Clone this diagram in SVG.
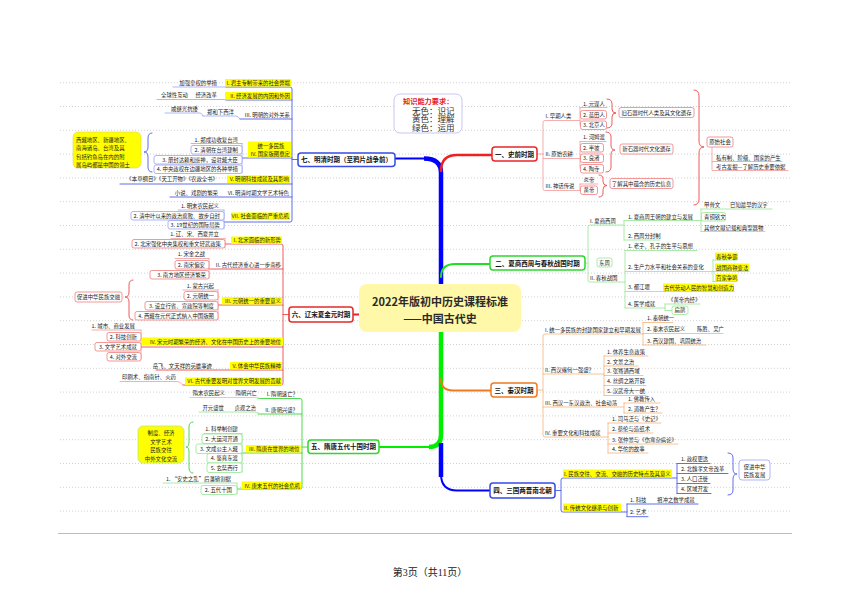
<svg xmlns="http://www.w3.org/2000/svg" width="860" height="608" viewBox="0 0 860 608">
<style>
text{font-family:"Noto Sans CJK SC","Noto Sans",sans-serif;fill:#222}
.t{font-size:5.4px}
.e{text-anchor:end}
.m{text-anchor:middle}
.n{font-size:6.5px;font-weight:bold;fill:#111;text-anchor:middle}
.hl{fill:#ffff00}
.dot{fill:none;stroke:#c6c6c6;stroke-width:0.8;stroke-dasharray:1 2}
.c{fill:none;stroke-linecap:round;stroke-linejoin:round}
.r1{stroke:#ea4a4a;stroke-width:0.9}
.r2{stroke:#f29a9a;stroke-width:0.8}
.b1{stroke:#4f5ee6;stroke-width:0.9}
.b2{stroke:#9ea5f3;stroke-width:0.8}
.g1{stroke:#3cd43c;stroke-width:0.9}
.g2{stroke:#95e595;stroke-width:0.8}
.o2{stroke:#f6b27c;stroke-width:0.8}
.bxr{fill:#fff;stroke:#ee6a6a;stroke-width:0.7}
.bxb{fill:#fff;stroke:#8d96f0;stroke-width:0.7}
.bxg{fill:#fff;stroke:#86e286;stroke-width:0.7}
.bxo{fill:#fff;stroke:#f6b27c;stroke-width:0.7}
.nd{fill:#fff;stroke-width:1.5}
.sf{font-family:"Liberation Serif","Noto Sans CJK SC",serif}
</style>
<rect width="860" height="608" fill="#fff"/>
<g id="page">
<path class="dot" d="M60,82.7H790M60,106.5H790M60,130.3H790M60,154.1H790M60,177.9H790M60,201.7H790M60,225.5H790M60,249.3H790M60,273.1H790M60,296.9H790M60,320.7H790M60,344.5H790M60,368.3H790M60,392.1H790M60,415.9H790M60,439.7H790M60,463.5H790M60,487.3H790M60,511.1H790"/>
<path d="M58,533.5H792" stroke="#bdbdbd" stroke-width="1"/>
<text class="sf" x="430" y="576" text-anchor="middle" style="font-size:10px">第3页（共11页）</text>
</g>
<g id="connectors">
<path class="c" d="M395,158.5H427" stroke="#0000ff" stroke-width="2"/>
<path d="M424,158.5Q441,158.5 441,173V286" fill="none" stroke="#0000ff" stroke-width="4.5"/>
<path class="c" d="M441,171Q441,155 457,155H492" stroke="#ee2020" stroke-width="2.5"/>
<path class="c" d="M441,277Q441,264 455,264H490" stroke="#22dd22" stroke-width="2"/>
<path d="M441,330V435Q441,447 429,447" fill="none" stroke="#00ee00" stroke-width="4.5"/>
<path class="c" d="M431,447H379" stroke="#00ee00" stroke-width="2"/>
<path class="c" d="M441,379Q441,390.5 453,390.5H491" stroke="#f07a20" stroke-width="2"/>
<path d="M441,443V477" fill="none" stroke="#0000ff" stroke-width="4.5"/>
<path class="c" d="M441,474Q441,490.5 457,490.5H490" stroke="#0000ff" stroke-width="2"/>
<path class="c" d="M353,314.5H359" stroke="#ee2020" stroke-width="2"/>
<!-- 一 -->
<path class="c r2" d="M537,154H543M580,120.5H545Q543,120.5 543,122.5V188.5Q543,190.5 545,190.5H580M543,158.5H580"/>
<path class="c r2" d="M580,107.5V125M580,107.5H607"/>
<path class="c r2" d="M580,141.5V168M580,141.5H606"/>
<path class="c r2" d="M580,184V190.5M580,184H598"/>
<path class="c r1" d="M607,99Q612,99 612,104V109Q612,113 616,113Q612,113 612,117V123Q612,128 607,128"/>
<path class="c r1" d="M606,132Q611,132 611,137V145Q611,150 615,150Q611,150 611,155V167Q611,172 606,172"/>
<path class="c r1" d="M599,175Q603,175 603,179V181.5Q603,185.5 607,185.5Q603,185.5 603,189.5V193Q603,197 599,197"/>
<path class="c r1" d="M694,90Q699,90 699,96V141Q699,147 704,147Q699,147 699,153V199Q699,205 694,205"/>
<path class="c r2" d="M712,147.5V170.5H788M712,161.5H782"/>
<!-- 二 -->
<path class="c g2" d="M585,263H588M624,225H590Q588,225 588,227V280Q588,282 590,282H625"/>
<path class="c g2" d="M624,220.5V240M624,220.5H701M624,240H660"/>
<path class="c g2" d="M701,209V231.5M701,209H772M701,231.5H765"/>
<path class="c g2" d="M625,250.5V308M625,250.5H697M625,271.5H713M625,291.5H734M625,308H665"/>
<path class="c g2" d="M713,260V281.5M713,260H737M713,271.5H749M713,281.5H737"/>
<path class="c g2" d="M665,304V310.5H672M665,304H700"/>
<!-- 三 -->
<path class="c o2" d="M537,390H543M643,334H545Q543,334 543,336V435Q543,437 545,437H608M543,374H604M543,407H624"/>
<path class="c o2" d="M643,322.5V345M643,322.5H673M643,333.5H723M643,345H706"/>
<path class="c o2" d="M604,356V395.5M604,356H648M604,366H638M604,375.5H643M604,385.5H646M604,395.5H646"/>
<path class="c o2" d="M624,403V413M624,403H660M624,413H662"/>
<path class="c o2" d="M608,423V453M608,423H661M608,433H653M608,444H678M608,453H648"/>
<!-- 四 -->
<path class="c b1" d="M555,490.5H561M677,478H563Q561,478 561,480V510Q561,512 563,512H627"/>
<path class="c b1" d="M677,463.5V493.5M677,463.5H710M677,473.5H728M677,483.5H710M677,493.5H711"/>
<path class="c b1" d="M728,453Q733,453 733,458V469Q733,474 737,474Q733,474 733,479V490Q733,495 728,495"/>
<path class="c b1" d="M627,504V516.7M627,504H698M627,516.7H648"/>
<!-- 五 -->
<path class="c g1" d="M308,447H302M258,398.5H300Q302,398.5 302,400.5V487Q302,489 300,489H237M258,414H302M242,453H302"/>
<path class="c g2" d="M190,397.5H255Q258,397.5 260,398.5M199,412H255Q258,412 260,414"/>
<path class="c g2" d="M242,433.5V472.5M204,433.5H242"/>
<path class="c g1" d="M193,422Q189,422 189,427V442Q189,447 186,447Q189,447 189,452V468Q189,473 193,473"/>
<path class="c g2" d="M237,483V494M163,483H237"/>
<!-- 六 -->
<path class="c r1" d="M289,314.5H283M225,244H281Q283,244 283,246V383Q283,385 281,385H183M209,269H283M218,305H283M141,347H283M156,370H283"/>
<path class="c r2" d="M225,238.5V248M171,238.5H225"/>
<path class="c r2" d="M209,258.5V278M175,258.5H209"/>
<path class="c r2" d="M218,290V320M183,290H218"/>
<path class="c r1" d="M133,280Q129,280 129,285V292Q129,297 125,297Q129,297 129,302V315Q129,320 133,320"/>
<path class="c r2" d="M141,330V359M92,330H141"/>
<path class="c r2" d="M120,381.5H177Q180,381.5 183,385"/>
<!-- 七 -->
<path class="c b1" d="M298,159.5H292M226,87H290Q292,87 292,89V220Q292,222 290,222H224M226,100H292M240,119H292M242,158H292M120,184H292M170,197H292"/>
<path class="c b2" d="M173,87H226"/>
<path class="c b2" d="M157,99.5H224L226,100"/>
<path class="c b2" d="M203,116H236Q238,116 240,119M165,113H200Q202,113 203,116"/>
<path class="c b2" d="M242,143.5V173M191,143.5H242"/>
<path class="c b1" d="M152,133Q148,133 148,138V147Q148,152 144,152Q148,152 148,157V167Q148,172 152,172"/>
<path class="c b2" d="M224,210V229M178,210H224"/>
</g>

<g id="center">
<rect x="359" y="284" width="162" height="48" rx="8" fill="#fff8a8"/>
<text x="440" y="305.5" text-anchor="middle" style="font-size:11px;font-weight:bold;fill:#2a2a2a">2022年版初中历史课程标准</text>
<text x="440" y="322.5" text-anchor="middle" style="font-size:11px;font-weight:bold;fill:#2a2a2a">——中国古代史</text>
</g>
<g id="legend">
<rect x="394" y="94" width="68" height="39" rx="6" fill="#fff" stroke="#b9b9ef" stroke-width="0.8"/>
<text class="sf" x="403" y="103.8" style="font-size:7.2px;font-weight:bold;fill:#e62020">知识能力要求：</text>
<text class="sf" x="412" y="113.5" style="font-size:8.5px;fill:#333">无色：识记</text>
<text class="sf" x="412" y="122" style="font-size:8.5px;fill:#333">黄色：理解</text>
<text class="sf" x="412" y="130.5" style="font-size:8.5px;fill:#333">绿色：运用</text>
</g>

<!-- 一 史前时期 -->
<g id="n1"><rect class="nd" x="492" y="147" width="45" height="14" rx="3" stroke="#e8262a"/><text class="n" x="514.5" y="156.6">一、史前时期</text></g>
<g id="n1-1"><text class="t" x="545.5" y="118">I. 早期人类</text></g>
<g id="n1-1-1"><text class="t" x="583" y="105.5">1. 元谋人</text></g>
<g id="n1-1-2"><rect class="bxr" x="580.5" y="110.5" width="26" height="8.5" rx="2"/><text class="t" x="583" y="116.8">2. 蓝田人</text></g>
<g id="n1-1-3"><rect class="bxr" x="580.5" y="121" width="26" height="8.5" rx="2"/><text class="t" x="583" y="127.3">3. 北京人</text></g>
<g id="n1-1-s"><rect class="bxr" x="619" y="107.5" width="75" height="10" rx="2"/><text class="t m" x="656.5" y="114.6">旧石器时代人类及其文化遗存</text></g>
<g id="n1-2"><text class="t" x="545.5" y="156">II. 原始农耕</text></g>
<g id="n1-2-1"><text class="t" x="583" y="139">1. 河姆渡</text></g>
<g id="n1-2-2"><rect class="bxr" x="580.5" y="143.5" width="23" height="8.5" rx="2"/><text class="t" x="583" y="149.8">2. 半坡</text></g>
<g id="n1-2-3"><rect class="bxr" x="580.5" y="154" width="23" height="8.5" rx="2"/><text class="t" x="583" y="160.3">3. 良渚</text></g>
<g id="n1-2-4"><rect class="bxr" x="580.5" y="164.5" width="23" height="8.5" rx="2"/><text class="t" x="583" y="170.8">4. 陶寺</text></g>
<g id="n1-2-s"><rect class="bxr" x="620" y="144" width="53" height="10" rx="2"/><text class="t m" x="646.5" y="151.1">新石器时代文化遗存</text></g>
<g id="n1-3"><text class="t" x="545.5" y="188">III. 神话传说</text></g>
<g id="n1-3-1"><text class="t" x="583.5" y="182">炎帝</text></g>
<g id="n1-3-2"><rect class="bxr" x="580.5" y="186" width="17" height="8.5" rx="2"/><text class="t" x="583.5" y="192.3">黄帝</text></g>
<g id="n1-3-s"><rect class="bxr" x="610" y="178.5" width="63" height="10" rx="2"/><text class="t m" x="641.5" y="185.6">了解其中蕴含的历史信息</text></g>
<g id="n1-s"><rect class="bxr" x="707" y="137" width="26" height="10" rx="2"/><text class="t m" x="720" y="144.1">原始社会</text></g>
<g id="n1-s-1"><text class="t" x="716" y="159.5">私有制、阶级、国家的产生</text></g>
<g id="n1-s-2"><text class="t" x="716" y="168.5">考古发掘—了解历史重要依据</text></g>

<!-- 二 -->
<g id="n2"><rect class="nd" x="490" y="256" width="95" height="14" rx="3" stroke="#2ed62e"/><text class="n" x="537.5" y="265.5">二、夏商西周与春秋战国时期</text></g>
<g id="n2-1"><text class="t" x="590" y="222.5">I. 夏商西周</text></g>
<g id="n2-1-1"><text class="t" x="628" y="218.5">1. 夏商周王朝的建立与发展</text></g>
<g id="n2-1-1a"><text class="t" x="704" y="206.5">甲骨文</text><text class="t" x="730" y="206.5">已知最早的汉字</text></g>
<g id="n2-1-1b"><rect class="bxg" x="701.5" y="212.5" width="24" height="8.5" rx="2"/><text class="t" x="704" y="218.8">青铜铭文</text></g>
<g id="n2-1-1c"><text class="t" x="704" y="229.5">其他文献记载和典型器物</text></g>
<g id="n2-1-2"><text class="t" x="628" y="237.5">2. 西周分封制</text></g>
<g id="n2-2"><text class="t" x="590" y="279.5">II. 春秋战国</text></g>
<g id="n2-2-d"><rect class="bxg" x="597" y="258" width="15" height="9" rx="2"/><text class="t m" x="604.5" y="264.6">东周</text></g>
<g id="n2-2-1"><text class="t" x="628" y="248">1. 老子、孔子的生平与思想</text></g>
<g id="n2-2-2"><text class="t" x="628" y="269">2. 生产力水平和社会关系的变化</text></g>
<g id="n2-2-2a"><rect class="hl" x="715" y="252.5" width="22.5" height="7"/><text class="t" x="716" y="258.6">春秋争霸</text></g>
<g id="n2-2-2b"><rect class="hl" x="715" y="263.5" width="34" height="7"/><text class="t" x="716" y="269.6">战国商鞅变法</text></g>
<g id="n2-2-2c"><rect class="hl" x="715" y="274" width="22.5" height="7"/><text class="t" x="716" y="280">百家争鸣</text></g>
<g id="n2-2-3"><text class="t" x="628" y="289">3. 都江堰</text></g>
<g id="n2-2-3a"><rect class="hl" x="663" y="283.5" width="71" height="7.5"/><text class="t" x="664" y="289.7">古代劳动人民的智慧和创造力</text></g>
<g id="n2-2-4"><text class="t" x="628" y="305.5">4. 医学成就</text></g>
<g id="n2-2-4a"><text class="t" x="668" y="301.5">《黄帝内经》</text></g>
<g id="n2-2-4b"><rect class="bxg" x="672" y="306" width="16" height="8.5" rx="2"/><text class="t m" x="680" y="312.4">扁鹊</text></g>

<!-- 三 -->
<g id="n3"><rect class="nd" x="491" y="383" width="46" height="14" rx="3" stroke="#f07a20"/><text class="n" x="514" y="392.5">三、秦汉时期</text></g>
<g id="n3-1"><text class="t" x="545" y="331.5">I. 统一多民族的封建国家建立和早期发展</text></g>
<g id="n3-1-1"><text class="t" x="647" y="320">1. 秦朝统一</text></g>
<g id="n3-1-2"><text class="t" x="647" y="331">2. 秦末农民起义</text><text class="t" x="697" y="331">陈胜、吴广</text></g>
<g id="n3-1-3"><text class="t" x="647" y="342.5">3. 西汉建国、巩固统治</text></g>
<g id="n3-2"><text class="t" x="545" y="371.5">II. 西汉缘何一强盛？</text></g>
<g id="n3-2-1"><text class="t" x="607" y="353.5">1. 休养生息政策</text></g>
<g id="n3-2-2"><text class="t" x="607" y="363.5">2. 文景之治</text></g>
<g id="n3-2-3"><text class="t" x="607" y="373">3. 张骞通西域</text></g>
<g id="n3-2-4"><text class="t" x="607" y="383">4. 丝绸之路开辟</text></g>
<g id="n3-2-5"><text class="t" x="607" y="393">5. 汉武帝大一统</text></g>
<g id="n3-3"><text class="t" x="545" y="404.5">III. 西汉一东汉政治、社会动荡</text></g>
<g id="n3-3-1"><text class="t" x="628" y="400.5">1. 佛教传入</text></g>
<g id="n3-3-2"><text class="t" x="628" y="410.5">2. 道教产生？</text></g>
<g id="n3-4"><text class="t" x="545" y="434.5">IV. 重要文化和科技成就</text></g>
<g id="n3-4-1"><text class="t" x="612" y="421">1. 司马迁与《史记》</text></g>
<g id="n3-4-2"><text class="t" x="612" y="431">2. 蔡伦与造纸术</text></g>
<g id="n3-4-3"><text class="t" x="612" y="442">3. 张仲景与《伤寒杂病论》</text></g>
<g id="n3-4-4"><text class="t" x="612" y="451">4. 华佗的故事</text></g>

<!-- 四 -->
<g id="n4"><rect class="nd" x="490" y="483" width="65" height="15" rx="3" stroke="#3a4be6"/><text class="n" x="522.5" y="493.2">四、三国两晋南北朝</text></g>
<g id="n4-1"><rect class="hl" x="563" y="469.5" width="109" height="8"/><text class="t" x="564" y="476">I. 民族交往、交流、交融的历史特点及其意义</text></g>
<g id="n4-1-1"><text class="t" x="681" y="461">1. 政权更迭</text></g>
<g id="n4-1-2"><text class="t" x="681" y="471">2. 北魏孝文帝改革</text></g>
<g id="n4-1-3"><text class="t" x="681" y="481">3. 人口迁徙</text></g>
<g id="n4-1-4"><text class="t" x="681" y="491">4. 区域开发</text></g>
<g id="n4-1-s"><rect class="bxb" x="739" y="460" width="31" height="20" rx="3"/><text class="t m" x="754.5" y="468.5">促进中华</text><text class="t m" x="754.5" y="477">民族发展</text></g>
<g id="n4-2"><rect class="hl" x="563" y="503.5" width="58" height="8"/><text class="t" x="564" y="510">II. 传统文化继承与创新</text></g>
<g id="n4-2-1"><text class="t" x="630" y="501.5">1. 科技</text><text class="t" x="657" y="501.5">祖冲之数学成就</text></g>
<g id="n4-2-2"><text class="t" x="630" y="514">2. 艺术</text></g>

<!-- 五 -->
<g id="n5"><rect class="nd" x="308" y="440" width="71" height="13.5" rx="3" stroke="#2ed62e"/><text class="n" x="343.5" y="449.2">五、隋唐五代十国时期</text></g>
<g id="n5-1"><text class="t e" x="298" y="396">I. 隋朝速亡？</text><text class="t e" x="257" y="395.3">隋朝兴亡</text><text class="t e" x="225" y="395.3">隋末农民起义</text></g>
<g id="n5-2"><text class="t e" x="298" y="411.5">II. 唐朝兴盛？</text><text class="t e" x="256" y="409.7">贞观之治</text><text class="t e" x="224" y="409.7">开元盛世</text></g>
<g id="n5-3"><rect class="hl" x="246" y="445" width="54.5" height="7.5"/><text class="t e" x="299.5" y="451">III. 隋唐在世界的地位</text></g>
<g id="n5-3-1"><text class="t e" x="238" y="431">1. 科举制创建</text></g>
<g id="n5-3-2"><rect class="bxg" x="202" y="434" width="40" height="9.5" rx="2"/><text class="t e" x="238" y="440.8">2. 大运河开通</text></g>
<g id="n5-3-3"><rect class="bxg" x="196" y="444" width="46" height="9.5" rx="2"/><text class="t e" x="238" y="450.8">3. 文成公主入藏</text></g>
<g id="n5-3-4"><rect class="bxg" x="207" y="453.5" width="35" height="9.5" rx="2"/><text class="t e" x="238" y="460.3">4. 鉴真东渡</text></g>
<g id="n5-3-5"><rect class="bxg" x="207" y="463" width="35" height="9.5" rx="2"/><text class="t e" x="238" y="469.8">5. 玄奘西行</text></g>
<g id="n5-3-s"><rect x="138" y="426" width="46" height="37" rx="5" fill="#ffff00" stroke="#bfe86a" stroke-width="0.8"/><text class="t m" x="161" y="435">制度、经济</text><text class="t m" x="161" y="443.5">文学艺术</text><text class="t m" x="161" y="452">民族交往</text><text class="t m" x="161" y="460.5">中外文化交流</text></g>
<g id="n5-4"><rect class="hl" x="241.5" y="481.5" width="59.5" height="7.5"/><text class="t e" x="300" y="487.5">IV. 唐末五代的社会危机</text></g>
<g id="n5-4-1"><text class="t e" x="231" y="481">1. “安史之乱”后藩镇割据</text></g>
<g id="n5-4-2"><rect class="bxg" x="201" y="485.5" width="36" height="9" rx="2"/><text class="t e" x="232" y="492">2. 五代十国</text></g>

<!-- 六 -->
<g id="n6"><rect class="nd" x="289" y="307" width="64" height="15" rx="3" stroke="#e52a2a"/><text class="n" x="321" y="317">六、辽宋夏金元时期</text></g>
<g id="n6-1"><rect class="hl" x="231" y="236.5" width="51" height="7.5"/><text class="t e" x="281" y="242.3">I. 北宋面临的新形势</text></g>
<g id="n6-1-1"><text class="t e" x="219" y="236">1. 辽、宋、西夏并立</text></g>
<g id="n6-1-2"><rect class="bxr" x="132" y="239.5" width="93" height="8.5" rx="2"/><text class="t e" x="221" y="245.8">2. 北宋强化中央集权和重文轻武政策</text></g>
<g id="n6-2"><text class="t e" x="281" y="267">II. 古代经济重心进一步南移</text></g>
<g id="n6-2-1"><text class="t e" x="205" y="256">1. 宋金之战</text></g>
<g id="n6-2-2"><rect class="bxr" x="175" y="260.5" width="34" height="8.5" rx="2"/><text class="t e" x="205" y="266.8">2. 南宋偏安</text></g>
<g id="n6-2-3"><rect class="bxr" x="150" y="270.5" width="59" height="8.5" rx="2"/><text class="t e" x="206" y="276.8">3. 南方地区经济繁荣</text></g>
<g id="n6-3"><rect class="hl" x="222" y="297" width="60" height="7.5"/><text class="t e" x="281" y="302.8">III. 元朝统一的重要意义</text></g>
<g id="n6-3-1"><text class="t e" x="214" y="287.5">1. 蒙古兴起</text></g>
<g id="n6-3-2"><rect class="bxr" x="184" y="291.5" width="34" height="8.5" rx="2"/><text class="t e" x="214" y="297.8">2. 元朝统一</text></g>
<g id="n6-3-3"><rect class="bxr" x="145" y="301.5" width="73" height="8.5" rx="2"/><text class="t e" x="214" y="307.8">3. 设立行省、宣政院等制度</text></g>
<g id="n6-3-4"><rect class="bxr" x="135" y="311.5" width="83" height="8.5" rx="2"/><text class="t e" x="214" y="317.8">4. 西藏在元代正式纳入中国版图</text></g>
<g id="n6-3-s"><rect class="bxr" x="75" y="292" width="47" height="10" rx="2"/><text class="t m" x="98.5" y="299.2">促进中华民族交融</text></g>
<g id="n6-4"><rect class="hl" x="141" y="337.5" width="142" height="8"/><text class="t e" x="281" y="343.5">IV. 宋元时期繁荣的经济、文化在中国历史上的重要地位</text></g>
<g id="n6-4-1"><text class="t e" x="135" y="327.8">1. 城市、商业发展</text></g>
<g id="n6-4-2"><rect class="bxr" x="107" y="332.5" width="34" height="8.5" rx="2"/><text class="t e" x="137" y="338.8">2. 科技创新</text></g>
<g id="n6-4-3"><rect class="bxr" x="95" y="342.5" width="46" height="8.5" rx="2"/><text class="t e" x="137" y="348.8">3. 文学艺术成就</text></g>
<g id="n6-4-4"><rect class="bxr" x="107" y="352.5" width="34" height="8.5" rx="2"/><text class="t e" x="137" y="358.8">4. 对外交流</text></g>
<g id="n6-5"><rect class="hl" x="230" y="362" width="52" height="7.5"/><text class="t e" x="281" y="367.8">V. 体会中华民族精神</text><text class="t e" x="212" y="367.5">岳飞、文天祥的英雄事迹</text></g>
<g id="n6-6"><rect class="hl" x="185" y="377.5" width="97" height="7.5"/><text class="t e" x="281" y="383.3">VI. 古代重要发明对世界文明发展的贡献</text><text class="t e" x="176" y="379">印刷术、指南针、火药</text></g>

<!-- 七 -->
<g id="n7"><rect class="nd" x="298" y="153" width="97" height="13.5" rx="3" stroke="#3a4be6"/><text class="n" x="346.5" y="162.3">七、明清时期（至鸦片战争前）</text></g>
<g id="n7-1"><rect class="hl" x="225" y="79" width="66" height="7.5"/><text class="t e" x="290" y="85">I. 君主专制带来的社会弊端</text><text class="t e" x="217" y="84.5">加强皇权的举措</text></g>
<g id="n7-2"><rect class="hl" x="225" y="92" width="66" height="7.5"/><text class="t e" x="290" y="98">II. 经济发展的内因和外因</text><text class="t e" x="217" y="97">经济改革</text><text class="t e" x="188" y="97">全球性互动</text></g>
<g id="n7-3"><text class="t e" x="290" y="116.5">III. 明朝的对外关系</text><text class="t e" x="234" y="113.5">郑和下西洋</text><text class="t e" x="198" y="110.5">戚继光抗倭</text></g>
<g id="n7-4"><rect class="hl" x="248" y="141.5" width="43" height="16"/><text class="t m" x="271" y="148.3">统一多民族</text><text class="t e" x="290" y="155.5">IV. 国家版图奠定</text></g>
<g id="n7-4-1"><text class="t e" x="238" y="141.5">1. 郑成功收复台湾</text></g>
<g id="n7-4-2"><rect class="bxb" x="191" y="145.5" width="51" height="8.5" rx="2"/><text class="t e" x="238" y="151.8">2. 清朝在台湾建制</text></g>
<g id="n7-4-3"><rect class="bxb" x="154" y="155.5" width="88" height="8.5" rx="2"/><text class="t e" x="238" y="161.8">3. 册封达赖和班禅，设驻藏大臣</text></g>
<g id="n7-4-4"><rect class="bxb" x="154" y="165" width="88" height="8.5" rx="2"/><text class="t e" x="238" y="171.3">4. 中央政权在边疆地区的各种举措</text></g>
<g id="n7-4-s"><rect x="73" y="132" width="68" height="36" rx="5" fill="#ffff00" stroke="#d6d65a" stroke-width="0.6"/><text class="t" x="76" y="142">西藏地区、新疆地区、</text><text class="t" x="76" y="150.3">南海诸岛、台湾及其</text><text class="t" x="76" y="158.5">包括钓鱼岛在内的附</text><text class="t" x="76" y="166.5">属岛屿都是中国的领土</text></g>
<g id="n7-5"><rect class="hl" x="227" y="175.5" width="63" height="7.5"/><text class="t e" x="289" y="181.3">V. 明朝科技成就及其影响</text><text class="t e" x="218" y="181">《本草纲目》《天工开物》《农政全书》</text></g>
<g id="n7-6"><text class="t e" x="289" y="194.8">VI. 明清时期文学艺术特色</text><text class="t e" x="218" y="194.5">小说、戏剧的繁荣</text></g>
<g id="n7-7"><rect class="hl" x="231" y="212.5" width="59" height="7.5"/><text class="t e" x="289" y="218.3">VII. 社会面临的严重危机</text></g>
<g id="n7-7-1"><text class="t e" x="219" y="207.8">1. 明末农民起义</text></g>
<g id="n7-7-2"><rect class="bxb" x="131" y="211.5" width="93" height="8.5" rx="2"/><text class="t e" x="220" y="217.8">2. 清中叶以来的政治腐败、故步自封</text></g>
<g id="n7-7-3"><rect class="bxb" x="168" y="220.5" width="56" height="8.5" rx="2"/><text class="t e" x="220" y="226.8">3. 19世纪的国际局势</text></g>
</svg>
